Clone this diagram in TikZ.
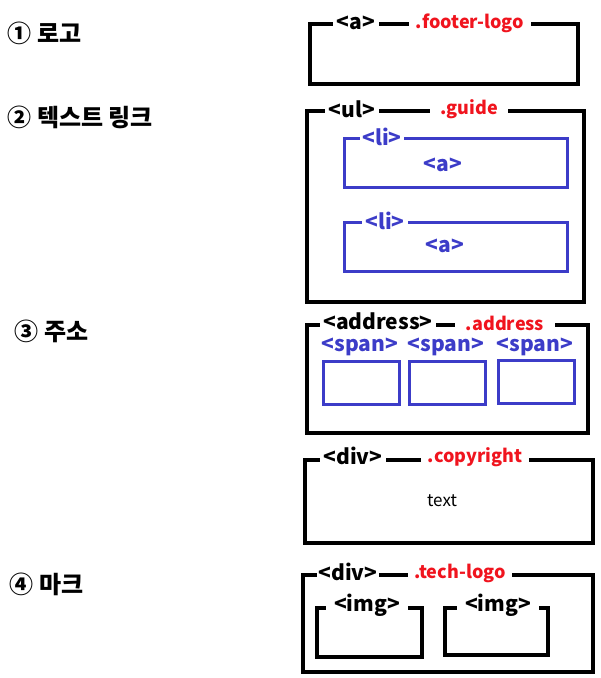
\documentclass[tikz,border=0pt]{standalone}
\usepackage{fontspec}
\setmainfont{Noto Sans CJK KR}
\usepackage{xcolor}
\definecolor{tagblue}{RGB}{60,60,200}
\definecolor{clsred}{RGB}{240,20,30}
\tikzset{
  outer/.style={draw, line width=3.5pt, inner sep=0pt},
  inner/.style={draw=tagblue, line width=3pt, inner sep=0pt},
  tag/.style={fill=white, font=\bfseries\fontsize{21}{24}\selectfont, inner xsep=4pt, inner ysep=0pt},
  cls/.style={tag, text=clsred, font=\bfseries\fontsize{18}{21}\selectfont, inner xsep=7pt},
  btag/.style={tag, text=tagblue},
  title/.style={anchor=west, font=\bfseries\fontsize{24}{28}\selectfont},
}
\begin{document}
\begin{tikzpicture}[x=1pt, y=-1pt]
  \useasboundingbox (0,0) rectangle (601,678);
  % section titles
  \node[title] (t1) at (4,33) {① 로고};
  \node[title] (t2) at (4,117) {② 텍스트 링크};
  \node[title] (t3) at (11,331) {③ 주소};
  \node[title] (t4) at (6,584) {④ 마크};
  % footer logo
  \node[outer, minimum width=268pt, minimum height=60pt] (logo) at (444,54) {};
  \node[tag] at (356,23) {<a>};
  \node[cls] at (470,23) {.footer-logo};
  % guide list
  \node[outer, minimum width=277pt, minimum height=191pt] (guide) at (445.5,206.5) {};
  \node[tag] at (352,109) {<ul>};
  \node[cls, inner xsep=10pt] (guidecls) at (469,109) {.guide};
  \node[inner, minimum width=223pt, minimum height=49pt] (li1) at (455.5,162.5) {};
  \node[btag, inner xsep=2pt] at (382,137) {<li>};
  \node[btag, fill=none] at (443,165) {<a>};
  \node[inner, minimum width=223pt, minimum height=49pt] (li2) at (455.5,246.5) {};
  \node[btag, inner xsep=3pt] at (385,221) {<li>};
  \node[btag, fill=none] at (445,246) {<a>};
  % address
  \node[outer, minimum width=281pt, minimum height=108pt] (addr) at (447.5,379) {};
  \node[tag, inner xsep=3pt] at (378,321) {<address>};
  \node[cls, inner xsep=11pt] at (505,323) {.address};
  \node[inner, minimum width=76pt, minimum height=43pt] (span1) at (361,382.5) {};
  \node[inner, minimum width=76pt, minimum height=43pt] (span2) at (447,382.5) {};
  \node[inner, minimum width=76pt, minimum height=43pt] (span3) at (536,381.5) {};
  \node[btag, fill=none] at (360,347) {<span>};
  \node[btag, fill=none] at (446,347) {<span>};
  \node[btag, fill=none] at (535,347) {<span>};
  % copyright
  \node[outer, minimum width=288pt, minimum height=83pt] (copy) at (449,501.5) {};
  \node[tag] at (353,456) {<div>};
  \node[cls] at (475,457) {.copyright};
  \node[font=\fontsize{17}{20}\selectfont] (copytext) at (442,501) {text};
  % tech logo
  \node[outer, minimum width=290pt, minimum height=97pt] (tech) at (448,623.5) {};
  \node[tag, inner xsep=2pt] at (348,572) {<div>};
  \node[cls, inner xsep=6pt] at (460,573) {.tech-logo};
  \node[outer, minimum width=105pt, minimum height=49pt] (img1) at (369.5,632.5) {};
  \node[tag, inner xsep=8pt] at (367,605) {<img>};
  \node[outer, minimum width=103pt, minimum height=47pt] (img2) at (496.5,631.5) {};
  \node[tag, inner xsep=8pt] at (498,605) {<img>};
\end{tikzpicture}
\end{document}
